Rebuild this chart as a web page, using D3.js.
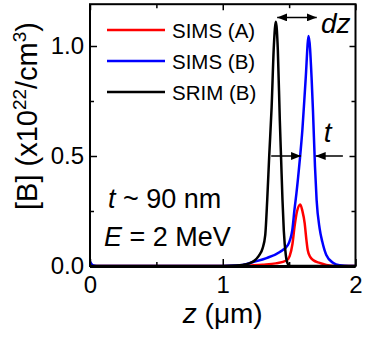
<!DOCTYPE html>
<html>
<head>
<meta charset="utf-8">
<script src="https://cdn.jsdelivr.net/npm/d3@7"></script>
<style>
  body { margin: 0; background: #fff; }
  text { font-family: Arial, 'Liberation Sans', Helvetica, sans-serif; fill: #000; }
</style>
</head>
<body>
<div id="chart"></div>
<script>
// Series: [z (um), [B] (x10^22 / cm^3)]
var srimB = [
  [0, 0], [1.0, 0], [1.1, 0.002], [1.15, 0.005], [1.2, 0.012], [1.24, 0.025],
  [1.27, 0.045], [1.3, 0.08], [1.32, 0.14], [1.335, 0.3], [1.35, 0.5],
  [1.368, 0.72], [1.385, 1.0], [1.4, 1.11], [1.415, 0.98], [1.43, 0.66],
  [1.44, 0.48], [1.45, 0.3], [1.46, 0.16], [1.475, 0.05], [1.49, 0.01],
  [1.51, 0], [2, 0]
]
var simsB = [
  [0, 0.02], [0.02, 0.004], [0.05, 0], [1.0, 0], [1.1, 0.002], [1.15, 0.005],
  [1.23, 0.018], [1.33, 0.036], [1.43, 0.064], [1.49, 0.095], [1.524, 0.164],
  [1.54, 0.255], [1.555, 0.33], [1.58, 0.48], [1.6, 0.62], [1.624, 0.845],
  [1.647, 1.045], [1.67, 0.845], [1.68, 0.7], [1.695, 0.45], [1.707, 0.3],
  [1.73, 0.17], [1.75, 0.11], [1.78, 0.05], [1.83, 0.015], [1.88, 0.003],
  [1.95, 0], [2, 0]
]
var simsA = [
  [0, 0], [1.15, 0], [1.2, 0.002], [1.3, 0.006], [1.4, 0.012], [1.48, 0.025],
  [1.504, 0.045], [1.525, 0.1], [1.541, 0.18], [1.56, 0.25], [1.584, 0.28],
  [1.6, 0.25], [1.617, 0.195], [1.63, 0.12], [1.64, 0.073], [1.66, 0.04],
  [1.68, 0.027], [1.73, 0.014], [1.78, 0.005], [1.85, 0], [2, 0]
]

var seriesNames = ['SIMS (A)', 'SIMS (B)', 'SRIM (B)']
var seriesColors = ['#ff0000', '#0000ff', '#000000']
var seriesData = [simsA, simsB, srimB]

var xMajorTicks = [0, 1, 2]
var xMinorTicks = [0.5, 1.5]
var yMajorTicks = [0, 0.5, 1.0]
var yMinorTicks = [0.25, 0.75]

// annotation arrows, in data units
var dzArrow = { y: 1.13, x1: 1.41, x2: 1.708 }
var tArrows = [{ y: 0.5, from: 1.365, to: 1.59 }, { y: 0.5, from: 1.905, to: 1.70 }]

var width = 366
var height = 337
var margin = { top: 4, left: 90, right: 10.5, bottom: 71 }

var svg = d3
  .select('#chart')
  .append('svg')
  .attr('width', width)
  .attr('height', height)

var xPositionScale = d3.scaleLinear().domain([0, 2]).range([margin.left, width - margin.right])
var yPositionScale = d3.scaleLinear().domain([0, 1.19]).range([height - margin.bottom, margin.top + 0.2])

var defs = svg.append('defs')
defs
  .append('marker')
  .attr('id', 'head')
  .attr('viewBox', '0 0 10 8')
  .attr('refX', 10)
  .attr('refY', 4)
  .attr('markerWidth', 10)
  .attr('markerHeight', 8)
  .attr('markerUnits', 'userSpaceOnUse')
  .attr('orient', 'auto-start-reverse')
  .append('path')
  .attr('d', 'M0,0 L10,4 L0,8 Z')
  .attr('fill', '#000')

var line = d3
  .line()
  .x(d => xPositionScale(d[0]))
  .y(d => yPositionScale(d[1]))
  .curve(d3.curveMonotoneX)

// curves
svg
  .selectAll('.curve')
  .data(seriesData)
  .enter()
  .append('path')
  .attr('class', 'curve')
  .attr('d', d => line(d))
  .attr('fill', 'none')
  .attr('stroke', (d, i) => seriesColors[i])
  .attr('stroke-width', 2.5)
  .attr('stroke-linejoin', 'round')

// frame
var x0 = xPositionScale(0)
var x1 = xPositionScale(2)
var y0 = yPositionScale(0)
var y1 = yPositionScale(1.19)
svg
  .append('rect')
  .attr('x', x0)
  .attr('y', y1)
  .attr('width', x1 - x0)
  .attr('height', y0 - y1)
  .attr('fill', 'none')
  .attr('stroke', '#000')
  .attr('stroke-width', 2)

// axes, ticks pointing inwards
function addAxis(axis, transform, values, size, labels) {
  var g = svg
    .append('g')
    .attr('transform', transform)
    .call(axis.tickValues(values).tickSize(size).tickFormat(labels ? null : ''))
  g.select('.domain').remove()
  g.selectAll('line').attr('stroke', '#000').attr('stroke-width', 1.5)
  return g
}

var bottomG = addAxis(d3.axisBottom(xPositionScale), `translate(0,${y0})`, xMajorTicks, -7, true)
bottomG.selectAll('text')
  .attr('y', 10)
  .attr('font-size', 24)
  .attr('font-family', 'Arial, Liberation Sans, sans-serif')
  .text(d => d3.format('d')(d))
addAxis(d3.axisBottom(xPositionScale), `translate(0,${y0})`, xMinorTicks, -4, false)
addAxis(d3.axisTop(xPositionScale), `translate(0,${y1})`, xMajorTicks, -6, false)
addAxis(d3.axisTop(xPositionScale), `translate(0,${y1})`, xMinorTicks, -4, false)

var leftG = addAxis(d3.axisLeft(yPositionScale), `translate(${x0},0)`, yMajorTicks, -7, true)
leftG.selectAll('text')
  .attr('x', -6)
  .attr('font-size', 24)
  .attr('font-family', 'Arial, Liberation Sans, sans-serif')
  .text(d => d3.format('.1f')(d))
addAxis(d3.axisLeft(yPositionScale), `translate(${x0},0)`, yMinorTicks, -4, false)
addAxis(d3.axisRight(yPositionScale), `translate(${x1},0)`, yMajorTicks, -6, false)
addAxis(d3.axisRight(yPositionScale), `translate(${x1},0)`, yMinorTicks, -4, false)

// thick baseline along zero
svg
  .append('line')
  .attr('x1', x0)
  .attr('x2', x1)
  .attr('y1', y0 + 0.5)
  .attr('y2', y0 + 0.5)
  .attr('stroke', '#000')
  .attr('stroke-width', 3)

// axis labels
var xLabel = svg
  .append('text')
  .attr('x', (x0 + x1) / 2)
  .attr('y', 323)
  .attr('text-anchor', 'middle')
  .attr('font-size', 28)
xLabel.append('tspan').attr('font-style', 'italic').text('z')
xLabel.append('tspan').text(' (\u03bcm)')

var yLabel = svg
  .append('text')
  .attr('transform', 'translate(37,116) rotate(-90)')
  .attr('text-anchor', 'middle')
  .attr('font-size', 29)
yLabel.append('tspan').text('[B] (x10')
yLabel.append('tspan').attr('font-size', 19).attr('dy', -11).text('22')
yLabel.append('tspan').attr('dy', 11).text('/cm')
yLabel.append('tspan').attr('font-size', 19).attr('dy', -11).text('3')
yLabel.append('tspan').attr('dy', 11).text(')')

// legend
var legend = svg
  .selectAll('.legend')
  .data(seriesNames)
  .enter()
  .append('g')
  .attr('class', 'legend')
  .attr('transform', (d, i) => `translate(107,${30 + i * 31})`)
legend
  .append('line')
  .attr('x1', 0)
  .attr('x2', 58)
  .attr('stroke', (d, i) => seriesColors[i])
  .attr('stroke-width', 2.5)
legend
  .append('text')
  .attr('x', 65)
  .attr('y', 7.5)
  .attr('font-size', 20.5)
  .text(d => d)

// annotations
svg
  .append('line')
  .attr('x1', xPositionScale(dzArrow.x1))
  .attr('x2', xPositionScale(dzArrow.x2))
  .attr('y1', yPositionScale(dzArrow.y))
  .attr('y2', yPositionScale(dzArrow.y))
  .attr('stroke', '#000')
  .attr('stroke-width', 1.5)
  .attr('marker-start', 'url(#head)')
  .attr('marker-end', 'url(#head)')

svg
  .selectAll('.t-arrow')
  .data(tArrows)
  .enter()
  .append('line')
  .attr('class', 't-arrow')
  .attr('x1', d => xPositionScale(d.from))
  .attr('x2', d => xPositionScale(d.to))
  .attr('y1', d => yPositionScale(d.y))
  .attr('y2', d => yPositionScale(d.y))
  .attr('stroke', '#000')
  .attr('stroke-width', 1.5)
  .attr('marker-end', 'url(#head)')

svg
  .append('text')
  .attr('x', xPositionScale(1.74))
  .attr('y', yPositionScale(1.06))
  .attr('font-size', 28)
  .attr('font-style', 'italic')
  .text('dz')

svg
  .append('text')
  .attr('x', xPositionScale(1.76))
  .attr('y', yPositionScale(0.565))
  .attr('font-size', 28)
  .attr('font-style', 'italic')
  .text('t')

var note1 = svg
  .append('text')
  .attr('x', xPositionScale(0.135))
  .attr('y', yPositionScale(0.265))
  .attr('font-size', 27)
note1.append('tspan').attr('font-style', 'italic').text('t')
note1.append('tspan').text(' ~ 90 nm')

var note2 = svg
  .append('text')
  .attr('x', xPositionScale(0.105))
  .attr('y', yPositionScale(0.09))
  .attr('font-size', 27)
note2.append('tspan').attr('font-style', 'italic').text('E')
note2.append('tspan').text(' = 2 MeV')
</script>
</body>
</html>
